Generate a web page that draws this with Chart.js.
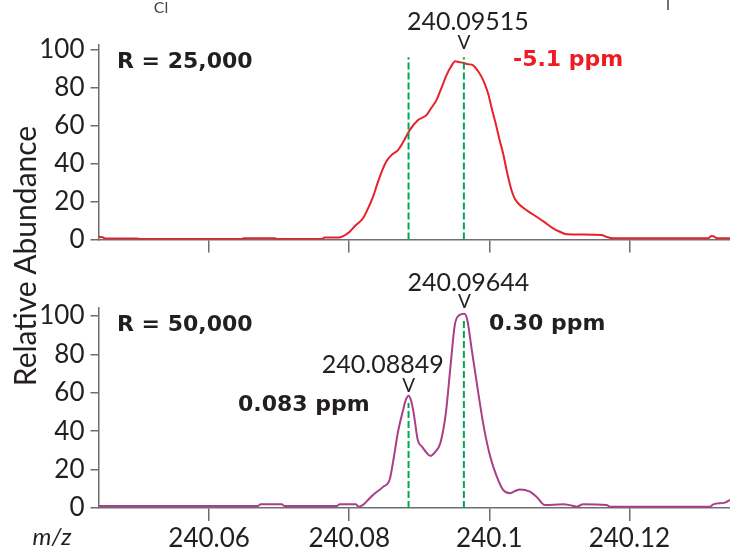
<!DOCTYPE html>
<html>
<head>
<meta charset="utf-8">
<script src="https://cdn.jsdelivr.net/npm/chart.js@4.4.1/dist/chart.umd.min.js"></script>
<style>
  body { margin: 0; background: #fff; }
  #wrap { position: relative; width: 730px; height: 552px; overflow: hidden; }
  canvas { position: absolute; left: 0; }
  #top { top: 0; }
  #bottom { top: 270px; }
  #ytitle {
    position: absolute; left: -176px; top: 238px; width: 400px; line-height: 34px;
    text-align: center; font: 30px Lato, sans-serif; color: #231f20;
    transform: rotate(-90deg);
  }
</style>
</head>
<body>
<div id="wrap">
  <canvas id="top" width="730" height="270"></canvas>
  <canvas id="bottom" width="730" height="282"></canvas>
  <div id="ytitle">Relative Abundance</div>
</div>
<script>
// axis ticks
var xTicks = [240.06, 240.08, 240.10, 240.12];
var xTickLabels = ['240.06', '240.08', '240.1', '240.12'];
var yTicks = [0, 20, 40, 60, 80, 100];

// profile at R = 25,000
var mz25 = [240.04421, 240.04479, 240.04521, 240.04964, 240.05021, 240.06464, 240.06493, 240.06936, 240.06979,
  240.07607, 240.0765, 240.0785, 240.07907, 240.08007, 240.08093, 240.08197, 240.08264, 240.0834, 240.08407,
  240.08483, 240.08536, 240.08603, 240.08697, 240.08779, 240.08864, 240.08983, 240.09103, 240.09164, 240.09246,
  240.09307, 240.09389, 240.0945, 240.09515, 240.09564, 240.09626, 240.09693, 240.09769, 240.09836, 240.09889,
  240.09936, 240.09983, 240.10036, 240.10103, 240.1015, 240.10197, 240.1025, 240.10317, 240.10364, 240.10436,
  240.1055, 240.10674, 240.10793, 240.10911, 240.11007, 240.11103, 240.11603, 240.11664, 240.11769, 240.13121,
  240.13174, 240.13207, 240.1325, 240.13436];
var ab25 = [1.4, 1.2, 0.5, 0.5, 0.2, 0.2, 0.7, 0.7, 0.2,
  0.2, 1.0, 1.0, 1.6, 4.1, 7.5, 11.2, 16, 22.5, 30,
  37.5, 41.5, 44.5, 47.2, 52, 57.7, 63, 65.6, 69, 73.5,
  79, 86.7, 91, 94, 93.6, 93.2, 92.5, 91.9, 89, 85.8,
  82, 77, 69, 59.4, 52, 45.4, 36, 26, 21.5, 18.2,
  15, 12, 9, 5.9, 4.1, 2.8, 2.4, 1.5, 0.6, 0.6,
  1.8, 1.6, 0.6, 0.6];

// profile at R = 50,000
var mz50 = [240.04421, 240.06693, 240.06736, 240.07036, 240.07079, 240.07821, 240.07864, 240.08093, 240.08136,
  240.08197, 240.08264, 240.0834, 240.08483, 240.08579, 240.08626, 240.08697, 240.08769, 240.08807, 240.08849,
  240.08883, 240.08921, 240.08979, 240.0904, 240.09111, 240.09157, 240.09229, 240.093, 240.09379, 240.0945,
  240.09507, 240.09571, 240.09644, 240.09686, 240.0975, 240.09836, 240.09921, 240.10014, 240.10107, 240.10197,
  240.10293, 240.10364, 240.10436, 240.10579, 240.10674, 240.10793, 240.11054, 240.1115, 240.11246, 240.1134,
  240.11674, 240.11721, 240.1315, 240.13197, 240.13364, 240.13436];
var ab50 = [1.0, 1.0, 1.9, 1.9, 1.0, 1.0, 1.9, 1.9, 0.7,
  1.6, 4.0, 6.8, 11, 15, 24, 39.7, 51, 56.2, 58.5,
  56, 49.3, 35.4, 31.9, 28.5, 27.2, 29.3, 33.7, 49.3, 75.4,
  95.3, 100.5, 101.2, 97.9, 82.3, 61.5, 42.3, 26.7, 16.3, 9.4,
  7.7, 8.8, 9.7, 8.5, 5.9, 1.6, 1.9, 1.5, 0.7, 1.9,
  1.6, 0.7, 0.7, 1.9, 2.8, 4.2];

// theoretical masses and how high their markers reach
var theoMz = [240.08847, 240.09637];
var markH25 = [96.2, 96.2];
var markH50 = [54.7, 98.3];

var ink = '#231f20';
var axisGrey = '#6d6e71';
var xMin = 240.04421, xMax = 240.13436;

function pts(xs, ys) {
  return xs.map(function (x, i) { return { x: x, y: ys[i] }; });
}

function markers(heights) {
  return theoMz.map(function (m, i) {
    return {
      data: [{ x: m, y: 0 }, { x: m, y: heights[i] }],
      borderColor: '#00a651', borderWidth: 2, borderDash: [7, 3],
      pointRadius: 0, order: 0
    };
  });
}

// free text and pointers on top of the plot
var notes = {
  id: 'notes',
  afterDraw: function (chart, args, opts) {
    var ctx = chart.ctx, xs = chart.scales.x;
    (opts.items || []).forEach(function (n) {
      var px = n.mz !== undefined ? xs.getPixelForValue(n.mz) + (n.dx || 0) : n.x;
      ctx.save();
      if (n.line) {
        ctx.strokeStyle = n.color || ink; ctx.lineWidth = 1.5;
        ctx.beginPath(); ctx.moveTo(px, n.y); ctx.lineTo(px, n.y2); ctx.stroke();
      } else {
        ctx.font = n.font; ctx.fillStyle = n.color || ink;
        ctx.textAlign = n.align || 'left'; ctx.textBaseline = 'middle';
        ctx.fillText(n.text, px, n.y);
      }
      ctx.restore();
    });
  }
};

var numFont = '25px Lato';
var boldFont = 'bold 22px "DejaVu Sans"';
var vFont = '19px Lato';

function makeChart(id, trace, color, heights, yMax, padTop, xHeight, showX, items) {
  return new Chart(document.getElementById(id), {
    type: 'line',
    data: {
      datasets: [{
        data: trace, borderColor: color, borderWidth: 2, pointRadius: 0,
        cubicInterpolationMode: 'monotone', order: 1
      }].concat(markers(heights))
    },
    options: {
      responsive: false, animation: false, devicePixelRatio: 1,
      layout: { padding: { top: padTop, left: 0, right: 0, bottom: 0 } },
      plugins: { legend: { display: false }, tooltip: { enabled: false }, notes: { items: items } },
      scales: {
        x: {
          type: 'linear', min: xMin, max: xMax,
          afterBuildTicks: function (s) { s.ticks = xTicks.map(function (v) { return { value: v }; }); },
          afterFit: function (s) { s.height = xHeight; },
          ticks: {
            display: showX, color: ink, padding: 2, maxRotation: 0, autoSkip: false,
            font: { family: 'Lato', size: 26 },
            callback: function (v, i) { return xTickLabels[i]; }
          },
          grid: { drawOnChartArea: false, tickLength: 13, color: axisGrey, lineWidth: 1.5 },
          border: { color: axisGrey, width: 1.5 }
        },
        y: {
          min: 0, max: yMax,
          afterBuildTicks: function (s) { s.ticks = yTicks.map(function (v) { return { value: v }; }); },
          afterFit: function (s) { s.width = 98.5; },
          ticks: { color: ink, padding: 6, font: { family: 'Lato', size: 26 } },
          grid: { drawOnChartArea: false, tickLength: 8, color: axisGrey, lineWidth: 1.5 },
          border: { color: axisGrey, width: 1.5 }
        }
      }
    },
    plugins: [notes]
  });
}

document.fonts.load('26px Lato').then(function () {
  return document.fonts.load('bold 22px "DejaVu Sans"');
}).then(function () {
  makeChart('top', pts(mz25, ab25), '#e8202a', markH25, 102.6, 45, 30.5, false, [
    { text: 'Cl', x: 161, y: 8, font: '16px Lato', color: '#444', align: 'center' },
    { line: true, x: 668, y: 0, y2: 10, color: '#444' },
    { text: '240.09515', mz: theoMz[1], dx: 4, y: 22, font: numFont, align: 'center' },
    { text: 'V', mz: theoMz[1], y: 43, font: vFont, align: 'center' },
    { text: 'R = 25,000', x: 117, y: 62, font: boldFont },
    { text: '-5.1 ppm', x: 513, y: 60, font: boldFont, color: '#ed1c24' }
  ]);
  makeChart('bottom', pts(mz50, ab50), '#a93f87', markH50, 104.2, 38, 44, true, [
    { text: '240.09644', mz: 240.09644, dx: 4, y: 13, font: numFont, align: 'center' },
    { text: 'V', mz: 240.09644, y: 32, font: vFont, align: 'center' },
    { text: 'R = 50,000', x: 117, y: 55, font: boldFont },
    { text: '0.30 ppm', x: 489, y: 54, font: boldFont },
    { text: '240.08849', mz: 240.08849, dx: -26, y: 95, font: numFont, align: 'center' },
    { text: 'V', mz: 240.08849, y: 116, font: vFont, align: 'center' },
    { text: '0.083 ppm', x: 238, y: 135, font: boldFont },
    { text: 'm/z', x: 52, y: 267, font: 'italic 24px Lato', align: 'center' }
  ]);
});
</script>
</body>
</html>
